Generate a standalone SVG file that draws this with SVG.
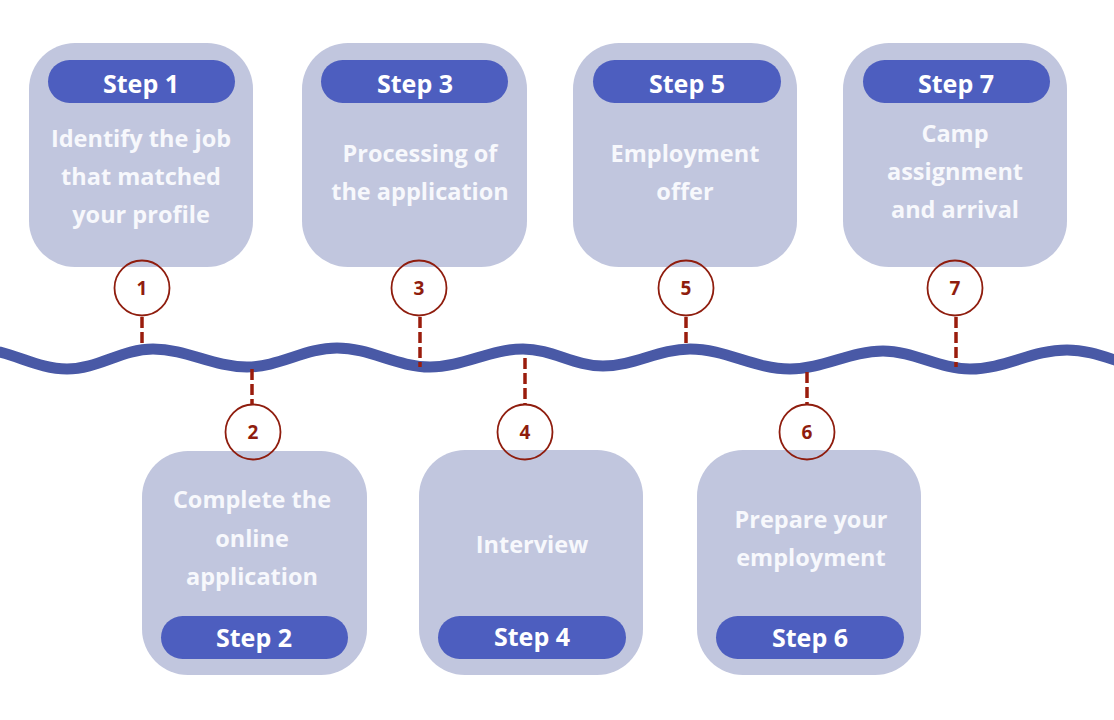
<svg xmlns="http://www.w3.org/2000/svg" width="1114" height="720" viewBox="0 0 1114 720">
<style>
.box{fill:#C1C6DE}
.pill{fill:#4D5EBF}
.step{font-family:"Open Sans","Liberation Sans",sans-serif;font-weight:700;font-size:25px;fill:#FFFFFF;text-anchor:middle}
.desc{font-family:"Open Sans","Liberation Sans",sans-serif;font-weight:700;font-size:23.5px;fill:#F7F8FC;text-anchor:middle}
.num{fill:none;stroke:#8F1D0E;stroke-width:1.8}
.numt{font-family:"Open Sans","Liberation Sans",sans-serif;font-weight:700;font-size:19px;fill:#8F1D0E;text-anchor:middle}
.dash{stroke:#9A1C0C;stroke-width:3.5;stroke-dasharray:11 4;fill:none}
.wave{fill:none;stroke:#4959A6;stroke-width:11}
</style>
<rect width="1114" height="720" fill="#FFFFFF"/>
<g id="wave">
<path class="wave" d="M -23 349 C 9 349 35 369 67 369 C 98 369 122 349 153 349 C 187 349 213 367 247 367 C 279 367 305 348 337 348 C 370 348 397 367 430 367 C 463 367 490 349 523 349 C 552 349 574 366 603 366 C 634 366 659 349 690 349 C 726 349 754 369 790 369 C 823 369 850 351 883 351 C 914 351 939 369 970 369 C 1005 369 1032 350 1067 350 C 1100 350 1127 369 1160 369"/>
</g>
<g id="connectors">
<line class="dash" x1="142" y1="317" x2="142" y2="343"/>
<line class="dash" x1="252" y1="369" x2="252" y2="405"/>
<line class="dash" x1="420" y1="317" x2="420" y2="367"/>
<line class="dash" x1="525" y1="358" x2="525" y2="405"/>
<line class="dash" x1="686" y1="317" x2="686" y2="343"/>
<line class="dash" x1="807" y1="372" x2="807" y2="405"/>
<line class="dash" x1="956" y1="317" x2="956" y2="367"/>
</g>
<g id="step1">
<rect class="box" x="29" y="43" width="224" height="224" rx="46"/>
<rect class="pill" x="48" y="60" width="187" height="43" rx="21.5"/>
<text class="step" x="141" y="93">Step 1</text>
<text class="desc" x="141" y="147">Identify the job</text>
<text class="desc" x="141" y="185">that matched</text>
<text class="desc" x="141" y="223">your profile</text>
<circle class="num" cx="142" cy="288" r="27.5"/>
<text class="numt" x="142" y="295">1</text>
</g>
<g id="step2">
<rect class="box" x="142" y="451" width="225" height="224" rx="46"/>
<rect class="pill" x="161" y="616" width="187" height="43" rx="21.5"/>
<text class="step" x="254" y="647">Step 2</text>
<text class="desc" x="252" y="508">Complete the</text>
<text class="desc" x="252" y="547">online</text>
<text class="desc" x="252" y="585">application</text>
<circle class="num" cx="253" cy="432" r="27.5"/>
<text class="numt" x="253" y="439">2</text>
</g>
<g id="step3">
<rect class="box" x="302" y="43" width="225" height="224" rx="46"/>
<rect class="pill" x="321" y="60" width="187" height="43" rx="21.5"/>
<text class="step" x="415" y="93">Step 3</text>
<text class="desc" x="420" y="162">Processing of</text>
<text class="desc" x="420" y="200">the application</text>
<circle class="num" cx="419" cy="288" r="27.5"/>
<text class="numt" x="419" y="295">3</text>
</g>
<g id="step4">
<rect class="box" x="419" y="450" width="224" height="225" rx="46"/>
<rect class="pill" x="438" y="616" width="188" height="43" rx="21.5"/>
<text class="step" x="532" y="646">Step 4</text>
<text class="desc" x="532" y="553">Interview</text>
<circle class="num" cx="525" cy="432" r="27.5"/>
<text class="numt" x="525" y="439">4</text>
</g>
<g id="step5">
<rect class="box" x="573" y="43" width="224" height="224" rx="46"/>
<rect class="pill" x="593" y="60" width="188" height="43" rx="21.5"/>
<text class="step" x="687" y="93">Step 5</text>
<text class="desc" x="685" y="162">Employment</text>
<text class="desc" x="685" y="200">offer</text>
<circle class="num" cx="686" cy="288" r="27.5"/>
<text class="numt" x="686" y="295">5</text>
</g>
<g id="step6">
<rect class="box" x="697" y="450" width="224" height="225" rx="46"/>
<rect class="pill" x="716" y="616" width="188" height="43" rx="21.5"/>
<text class="step" x="810" y="647">Step 6</text>
<text class="desc" x="811" y="528">Prepare your</text>
<text class="desc" x="811" y="566">employment</text>
<circle class="num" cx="807" cy="432" r="27.5"/>
<text class="numt" x="807" y="439">6</text>
</g>
<g id="step7">
<rect class="box" x="843" y="43" width="224" height="224" rx="46"/>
<rect class="pill" x="863" y="60" width="187" height="43" rx="21.5"/>
<text class="step" x="956" y="93">Step 7</text>
<text class="desc" x="955" y="142">Camp</text>
<text class="desc" x="955" y="180">assignment</text>
<text class="desc" x="955" y="218">and arrival</text>
<circle class="num" cx="955" cy="288" r="27.5"/>
<text class="numt" x="955" y="295">7</text>
</g>
</svg>
